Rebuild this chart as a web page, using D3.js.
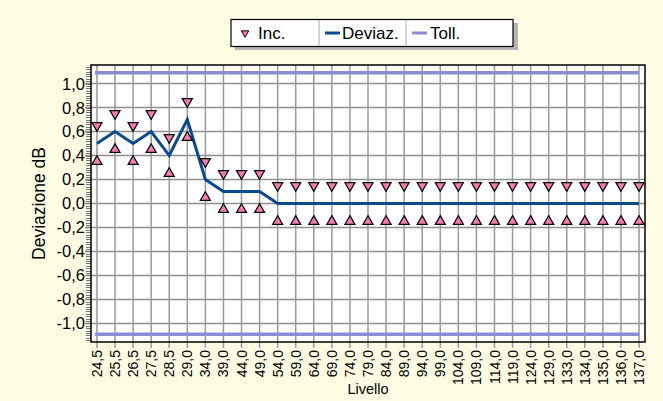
<!DOCTYPE html>
<html>
<head>
<meta charset="utf-8">
<script src="https://cdn.jsdelivr.net/npm/d3@7"></script>
<style>
  body { margin: 0; background: #fffde3; }
  svg { display: block; font-family: "Liberation Sans", Arial, sans-serif; }
</style>
</head>
<body>
<script>
// dati
var livello = [24.5, 25.5, 26.5, 27.5, 28.5, 29.0, 34.0, 39.0, 44.0, 49.0,
               54.0, 59.0, 64.0, 69.0, 74.0, 79.0, 84.0, 89.0, 94.0, 99.0,
               104.0, 109.0, 114.0, 119.0, 124.0, 129.0, 133.0, 134.0, 135.0, 136.0, 137.0];
var deviaz = [0.5, 0.6, 0.5, 0.6, 0.4, 0.7, 0.2, 0.1, 0.1, 0.1,
              0, 0, 0, 0, 0, 0, 0, 0, 0, 0,
              0, 0, 0, 0, 0, 0, 0, 0, 0, 0, 0];
var incSup = [0.65, 0.75, 0.65, 0.75, 0.55, 0.85, 0.35, 0.25, 0.25, 0.25,
              0.15, 0.15, 0.15, 0.15, 0.15, 0.15, 0.15, 0.15, 0.15, 0.15,
              0.15, 0.15, 0.15, 0.15, 0.15, 0.15, 0.15, 0.15, 0.15, 0.15, 0.15];
var incInf = [0.35, 0.45, 0.35, 0.45, 0.25, 0.55, 0.05, -0.05, -0.05, -0.05,
              -0.15, -0.15, -0.15, -0.15, -0.15, -0.15, -0.15, -0.15, -0.15, -0.15,
              -0.15, -0.15, -0.15, -0.15, -0.15, -0.15, -0.15, -0.15, -0.15, -0.15, -0.15];
var tollSup = 1.09, tollInf = -1.09;
var yTicks = [-1.0, -0.8, -0.6, -0.4, -0.2, 0.0, 0.2, 0.4, 0.6, 0.8, 1.0];

var W = 663, H = 401;
var m = {left: 91, right: 18, top: 65, bottom: 59};

var it = d3.formatLocale({decimal: ",", thousands: ".", grouping: [3], currency: ["", "€"], minus: "-"});
var fmt = it.format(".1f");

var svg = d3.select("body").append("svg")
    .attr("width", W)
    .attr("height", H);

svg.append("rect").attr("width", W).attr("height", H).attr("fill", "#fffde3");

var x = d3.scalePoint()
    .domain(d3.range(livello.length))
    .range([m.left, W - m.right])
    .padding(0.33);

var y = d3.scaleLinear()
    .domain([-1.155, 1.155])
    .range([H - m.bottom, m.top]);

// area del grafico
svg.append("rect")
    .attr("x", m.left).attr("y", m.top)
    .attr("width", W - m.left - m.right)
    .attr("height", H - m.top - m.bottom)
    .attr("fill", "#ffffff");

// griglia
svg.append("g").selectAll("line")
    .data(yTicks)
    .enter().append("line")
    .attr("x1", m.left - 6).attr("x2", W - m.right)
    .attr("y1", function(d) { return y(d); })
    .attr("y2", function(d) { return y(d); })
    .attr("stroke", "#8f8f8f").attr("stroke-width", 1.5);

svg.append("g").selectAll("line")
    .data(d3.range(livello.length))
    .enter().append("line")
    .attr("x1", function(d) { return x(d); })
    .attr("x2", function(d) { return x(d); })
    .attr("y1", m.top).attr("y2", H - m.bottom + 6)
    .attr("stroke", "#9a9a9a").attr("stroke-width", 1.5);

// tacche minori asse y
var minor = d3.range(-1.14, 1.15, 0.02);
svg.append("g").selectAll("line")
    .data(minor)
    .enter().append("line")
    .attr("x1", m.left - 5).attr("x2", m.left)
    .attr("y1", function(d) { return Math.round(y(d)) + 0.5; })
    .attr("y2", function(d) { return Math.round(y(d)) + 0.5; })
    .attr("stroke", "#777").attr("stroke-width", 1);

// bordo
svg.append("rect")
    .attr("x", m.left).attr("y", m.top)
    .attr("width", W - m.left - m.right)
    .attr("height", H - m.top - m.bottom)
    .attr("fill", "none")
    .attr("stroke", "#000").attr("stroke-width", 1.5);

// etichette asse y
svg.append("g").selectAll("text")
    .data(yTicks)
    .enter().append("text")
    .attr("x", m.left - 6)
    .attr("y", function(d) { return y(d); })
    .attr("dy", "0.36em")
    .attr("text-anchor", "end")
    .attr("font-size", 16.5)
    .attr("fill", "#000")
    .text(function(d) { return fmt(d); });

// etichette asse x
svg.append("g").selectAll("text")
    .data(livello)
    .enter().append("text")
    .attr("transform", function(d, i) { return "translate(" + x(i) + "," + (H - m.bottom + 8) + ") rotate(-90)"; })
    .attr("dy", "0.36em")
    .attr("text-anchor", "end")
    .attr("font-size", 14)
    .attr("fill", "#000")
    .text(function(d) { return fmt(d); });

svg.append("text")
    .attr("x", (m.left + W - m.right) / 2)
    .attr("y", 394)
    .attr("text-anchor", "middle")
    .attr("font-size", 14.5)
    .text("Livello");

svg.append("text")
    .attr("transform", "translate(45," + y(0) + ") rotate(-90)")
    .attr("text-anchor", "middle")
    .attr("font-size", 17.5)
    .text("Deviazione dB");

// tolleranze
[tollSup, tollInf].forEach(function(t) {
    svg.append("line")
        .attr("x1", x(0) - 2).attr("x2", x(livello.length - 1))
        .attr("y1", y(t)).attr("y2", y(t))
        .attr("stroke", "#8c8cd2").attr("stroke-width", 3.5);
});

// deviazione
var line = d3.line()
    .x(function(d, i) { return x(i); })
    .y(function(d) { return y(d); });

svg.append("path")
    .datum(deviaz)
    .attr("d", line)
    .attr("fill", "none")
    .attr("stroke", "#0b4a8b")
    .attr("stroke-width", 3)
    .attr("stroke-linejoin", "miter");

// incertezza
var tri = d3.symbol().type(d3.symbolTriangle).size(44);
svg.append("g").selectAll("path")
    .data(incSup)
    .enter().append("path")
    .attr("d", tri)
    .attr("transform", function(d, i) { return "translate(" + x(i) + "," + y(d) + ") rotate(180)"; })
    .attr("fill", "#f47cb4").attr("stroke", "#000").attr("stroke-width", 1.2);

svg.append("g").selectAll("path")
    .data(incInf)
    .enter().append("path")
    .attr("d", tri)
    .attr("transform", function(d, i) { return "translate(" + x(i) + "," + y(d) + ")"; })
    .attr("fill", "#f47cb4").attr("stroke", "#000").attr("stroke-width", 1.2);

// legenda
var lg = svg.append("g");
lg.append("rect").attr("x", 235).attr("y", 23).attr("width", 283).attr("height", 27).attr("fill", "#b4b4b4");
lg.append("rect").attr("x", 231).attr("y", 19.5).attr("width", 282).attr("height", 27)
    .attr("fill", "#fff").attr("stroke", "#000").attr("stroke-width", 1.2);
[319, 406].forEach(function(d) {
    lg.append("line").attr("x1", d).attr("x2", d).attr("y1", 20).attr("y2", 46)
        .attr("stroke", "#aaa").attr("stroke-width", 1);
});
lg.append("path").attr("d", d3.symbol().type(d3.symbolTriangle).size(24))
    .attr("transform", "translate(245,33) rotate(180)")
    .attr("fill", "#f47cb4").attr("stroke", "#000").attr("stroke-width", 1);
lg.append("line").attr("x1", 325).attr("x2", 340).attr("y1", 33).attr("y2", 33)
    .attr("stroke", "#0b4a8b").attr("stroke-width", 3);
lg.append("line").attr("x1", 412).attr("x2", 427).attr("y1", 33).attr("y2", 33)
    .attr("stroke", "#8c8cd2").attr("stroke-width", 3);
var lt = [["Inc.", 258], ["Deviaz.", 342], ["Toll.", 430]];
lg.selectAll("text.lt").data(lt).enter().append("text")
    .attr("x", function(d) { return d[1]; })
    .attr("y", 33).attr("dy", "0.36em")
    .attr("font-size", 17)
    .text(function(d) { return d[0]; });
</script>
</body>
</html>
